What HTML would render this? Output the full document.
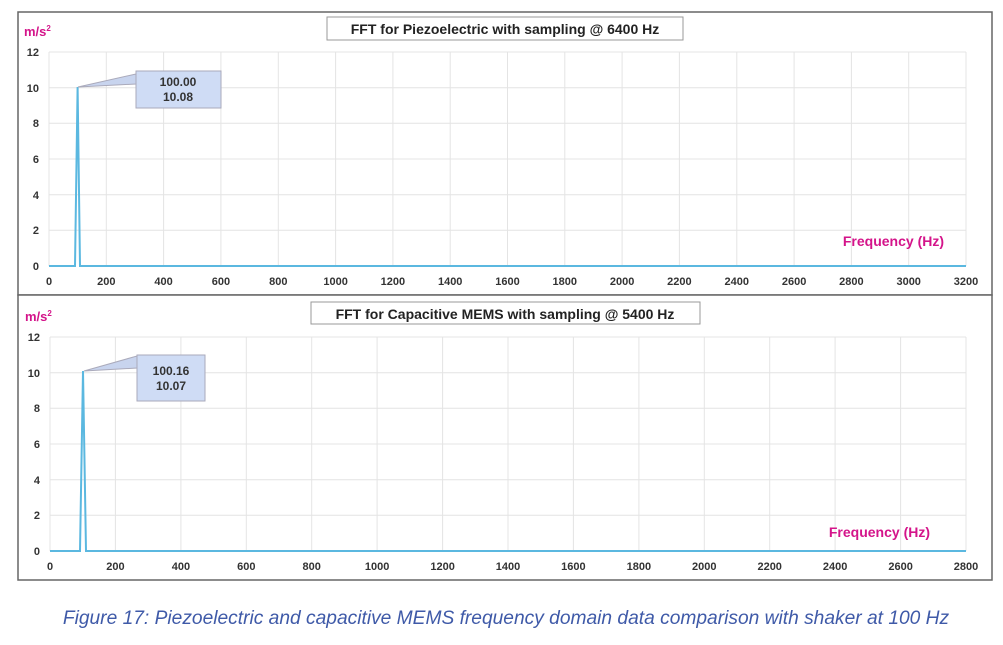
<!DOCTYPE html>
<html><head><meta charset="utf-8"><style>
body{margin:0;background:#fff;width:1003px;height:640px;overflow:hidden}
text{font-family:"Liberation Sans",sans-serif}
</style></head><body>
<svg width="1003" height="640" xmlns="http://www.w3.org/2000/svg">
<rect x="18" y="12" width="974" height="283" fill="#fff" stroke="#666" stroke-width="1.5"/>
<rect x="18" y="295" width="974" height="285" fill="#fff" stroke="#666" stroke-width="1.5"/>
<g id="top">
<g stroke="#e4e4e4" stroke-width="1">
<line x1="49" y1="52" x2="966" y2="52"/><line x1="49" y1="87.7" x2="966" y2="87.7"/><line x1="49" y1="123.3" x2="966" y2="123.3"/><line x1="49" y1="159" x2="966" y2="159"/><line x1="49" y1="194.7" x2="966" y2="194.7"/><line x1="49" y1="230.3" x2="966" y2="230.3"/>
<line x1="49" y1="52" x2="49" y2="266"/><line x1="106.3" y1="52" x2="106.3" y2="266"/><line x1="163.6" y1="52" x2="163.6" y2="266"/><line x1="220.9" y1="52" x2="220.9" y2="266"/><line x1="278.3" y1="52" x2="278.3" y2="266"/><line x1="335.6" y1="52" x2="335.6" y2="266"/><line x1="392.9" y1="52" x2="392.9" y2="266"/><line x1="450.2" y1="52" x2="450.2" y2="266"/><line x1="507.5" y1="52" x2="507.5" y2="266"/><line x1="564.8" y1="52" x2="564.8" y2="266"/><line x1="622.1" y1="52" x2="622.1" y2="266"/><line x1="679.4" y1="52" x2="679.4" y2="266"/><line x1="736.8" y1="52" x2="736.8" y2="266"/><line x1="794.1" y1="52" x2="794.1" y2="266"/><line x1="851.4" y1="52" x2="851.4" y2="266"/><line x1="908.7" y1="52" x2="908.7" y2="266"/><line x1="966" y1="52" x2="966" y2="266"/>
</g>
<polyline points="49,266 75,266 77.6,87 80,266 966,266" fill="none" stroke="#5bb8e0" stroke-width="2"/>
<g font-size="11" font-weight="bold" fill="#333" text-anchor="end">
<text x="39" y="56">12</text><text x="39" y="92">10</text><text x="39" y="127">8</text><text x="39" y="163">6</text><text x="39" y="199">4</text><text x="39" y="234">2</text><text x="39" y="270">0</text></g>
<g font-size="11" font-weight="bold" fill="#333" text-anchor="middle">
<text x="49" y="285">0</text><text x="106.3" y="285">200</text><text x="163.6" y="285">400</text><text x="220.9" y="285">600</text><text x="278.3" y="285">800</text><text x="335.6" y="285">1000</text><text x="392.9" y="285">1200</text><text x="450.2" y="285">1400</text><text x="507.5" y="285">1600</text><text x="564.8" y="285">1800</text><text x="622.1" y="285">2000</text><text x="679.4" y="285">2200</text><text x="736.8" y="285">2400</text><text x="794.1" y="285">2600</text><text x="851.4" y="285">2800</text><text x="908.7" y="285">3000</text><text x="966" y="285">3200</text></g>
<text x="24" y="36" font-size="13" font-weight="bold" fill="#d4148a">m/s<tspan font-size="8" dy="-5">2</tspan></text>
<text x="944" y="246" font-size="14" font-weight="bold" fill="#d4148a" text-anchor="end">Frequency (Hz)</text>
<rect x="327" y="17" width="356" height="23" fill="#fff" stroke="#999"/>
<text x="505" y="34" font-size="14" font-weight="bold" fill="#222" text-anchor="middle">FFT for Piezoelectric with sampling @ 6400 Hz</text>
<polygon points="78,87 136,74 136,84" fill="#c8d4ee" stroke="#aab"/>
<rect x="136" y="71" width="85" height="37" fill="#cfdcf5" stroke="#aab"/>
<text x="178" y="86" font-size="12" font-weight="bold" fill="#333" text-anchor="middle">100.00</text>
<text x="178" y="101" font-size="12" font-weight="bold" fill="#333" text-anchor="middle">10.08</text>
</g>
<g id="bot">
<g stroke="#e4e4e4" stroke-width="1">
<line x1="50" y1="337" x2="966" y2="337"/><line x1="50" y1="372.7" x2="966" y2="372.7"/><line x1="50" y1="408.3" x2="966" y2="408.3"/><line x1="50" y1="444" x2="966" y2="444"/><line x1="50" y1="479.7" x2="966" y2="479.7"/><line x1="50" y1="515.3" x2="966" y2="515.3"/>
<line x1="50" y1="337" x2="50" y2="551"/><line x1="115.4" y1="337" x2="115.4" y2="551"/><line x1="180.9" y1="337" x2="180.9" y2="551"/><line x1="246.3" y1="337" x2="246.3" y2="551"/><line x1="311.7" y1="337" x2="311.7" y2="551"/><line x1="377.1" y1="337" x2="377.1" y2="551"/><line x1="442.6" y1="337" x2="442.6" y2="551"/><line x1="508" y1="337" x2="508" y2="551"/><line x1="573.4" y1="337" x2="573.4" y2="551"/><line x1="638.9" y1="337" x2="638.9" y2="551"/><line x1="704.3" y1="337" x2="704.3" y2="551"/><line x1="769.7" y1="337" x2="769.7" y2="551"/><line x1="835.1" y1="337" x2="835.1" y2="551"/><line x1="900.6" y1="337" x2="900.6" y2="551"/><line x1="966" y1="337" x2="966" y2="551"/>
</g>
<polyline points="50,551 80,551 83,371 86,551 966,551" fill="none" stroke="#5bb8e0" stroke-width="2"/>
<g font-size="11" font-weight="bold" fill="#333" text-anchor="end">
<text x="40" y="341">12</text><text x="40" y="377">10</text><text x="40" y="412">8</text><text x="40" y="448">6</text><text x="40" y="484">4</text><text x="40" y="519">2</text><text x="40" y="555">0</text></g>
<g font-size="11" font-weight="bold" fill="#333" text-anchor="middle">
<text x="50" y="570">0</text><text x="115.4" y="570">200</text><text x="180.9" y="570">400</text><text x="246.3" y="570">600</text><text x="311.7" y="570">800</text><text x="377.1" y="570">1000</text><text x="442.6" y="570">1200</text><text x="508" y="570">1400</text><text x="573.4" y="570">1600</text><text x="638.9" y="570">1800</text><text x="704.3" y="570">2000</text><text x="769.7" y="570">2200</text><text x="835.1" y="570">2400</text><text x="900.6" y="570">2600</text><text x="966" y="570">2800</text></g>
<text x="25" y="321" font-size="13" font-weight="bold" fill="#d4148a">m/s<tspan font-size="8" dy="-5">2</tspan></text>
<text x="930" y="537" font-size="14" font-weight="bold" fill="#d4148a" text-anchor="end">Frequency (Hz)</text>
<rect x="311" y="302" width="389" height="22" fill="#fff" stroke="#999"/>
<text x="505" y="319" font-size="14" font-weight="bold" fill="#222" text-anchor="middle">FFT for Capacitive MEMS with sampling @ 5400 Hz</text>
<polygon points="84,371 137,356 137,368" fill="#c8d4ee" stroke="#aab"/>
<rect x="137" y="355" width="68" height="46" fill="#cfdcf5" stroke="#aab"/>
<text x="171" y="375" font-size="12" font-weight="bold" fill="#333" text-anchor="middle">100.16</text>
<text x="171" y="390" font-size="12" font-weight="bold" fill="#333" text-anchor="middle">10.07</text>
</g>
<text x="506" y="624" font-size="19.2" font-style="italic" fill="#3f5aa8" text-anchor="middle">Figure 17: Piezoelectric and capacitive MEMS frequency domain data comparison with shaker at 100 Hz</text>
</svg>
</body></html>
